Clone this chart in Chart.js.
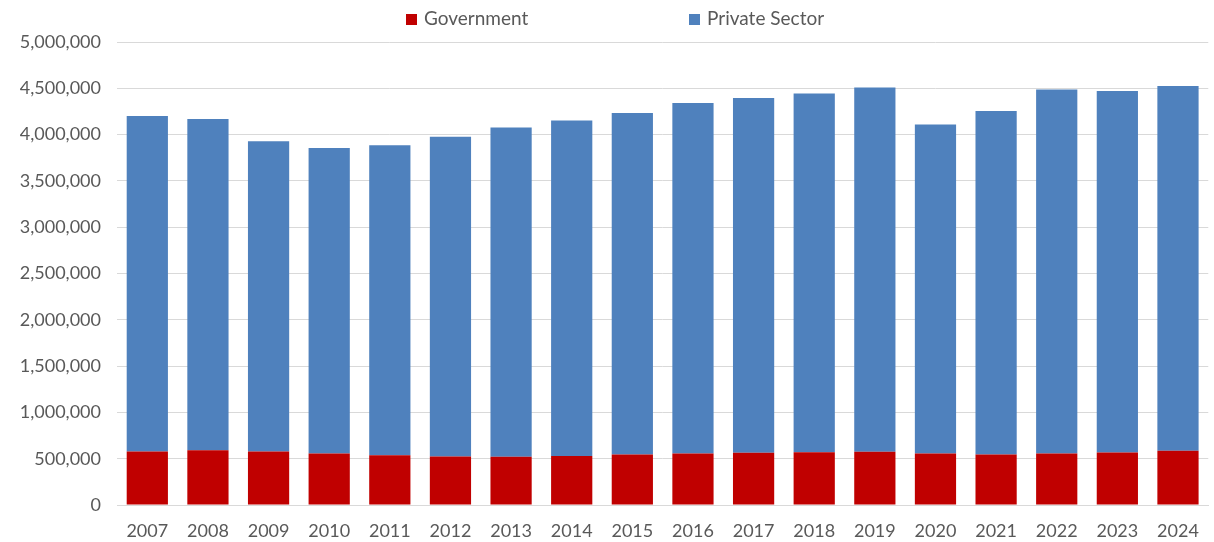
<!DOCTYPE html>
<html>
<head>
<meta charset="utf-8">
<script src="https://cdn.jsdelivr.net/npm/chart.js@4/dist/chart.umd.min.js"></script>
<style>
  html, body { margin: 0; padding: 0; background: #fff; }
  #wrap { position: relative; width: 1214px; height: 542px; }
  .legend { position: absolute; top: 6px; font-family: Lato, sans-serif; font-size: 19px; color: #595959; }
  .legend span.box { display: inline-block; width: 11px; height: 11px; margin-right: 7px; vertical-align: 0px; }
</style>
</head>
<body>
<div id="wrap">
  <canvas id="chart" width="1214" height="542"></canvas>
  <div class="legend" style="left:406px"><span class="box" style="background:#C00000"></span>Government</div>
  <div class="legend" style="left:689px"><span class="box" style="background:#4F81BD"></span>Private Sector</div>
</div>
<script>
// Datos del gráfico
const years = ['2007', '2008', '2009', '2010', '2011', '2012', '2013', '2014', '2015',
               '2016', '2017', '2018', '2019', '2020', '2021', '2022', '2023', '2024'];
const government = [579000, 590000, 579000, 557000, 536000, 525000, 522000, 528000, 546000,
                    557000, 565000, 570000, 576000, 555000, 546000, 557000, 568000, 587000];
const privateSector = [3623000, 3579000, 3349000, 3299000, 3349000, 3453000, 3554000, 3623000, 3688000,
                       3785000, 3831000, 3873000, 3932000, 3553000, 3710000, 3929000, 3904000, 3939000];
const yTicks = [0, 500000, 1000000, 1500000, 2000000, 2500000, 3000000, 3500000, 4000000, 4500000, 5000000];

const ctx = document.getElementById('chart').getContext('2d');
const chart = new Chart(ctx, {
    type: 'bar',
    data: {
        labels: years,
        datasets: [{
            label: 'Government',
            data: government,
            backgroundColor: '#C00000',
            barPercentage: 0.68,
            categoryPercentage: 1
        }, {
            label: 'Private Sector',
            data: privateSector,
            backgroundColor: '#4F81BD',
            barPercentage: 0.68,
            categoryPercentage: 1
        }]
    },
    options: {
        responsive: false,
        animation: false,
        layout: { padding: { top: 42, right: 5, left: 0, bottom: 0 } },
        plugins: {
            legend: { display: false },
            tooltip: { enabled: false }
        },
        scales: {
            x: {
                stacked: true,
                grid: { display: false, drawTicks: false },
                border: { color: '#d9d9d9' },
                ticks: {
                    color: '#595959',
                    font: { family: 'Lato', size: 18 },
                    padding: 15,
                    maxRotation: 0
                },
                afterFit: function(scale) { scale.height = 37; }
            },
            y: {
                stacked: true,
                min: 0,
                max: 5000000,
                grid: { color: '#d9d9d9', drawTicks: false },
                border: { display: false },
                afterBuildTicks: function(scale) {
                    scale.ticks = yTicks.map(v => ({ value: v }));
                },
                ticks: {
                    color: '#595959',
                    font: { family: 'Lato', size: 18 },
                    padding: 16,
                    callback: v => v.toLocaleString('en-US')
                },
                afterFit: function(scale) { scale.width = 117; }
            }
        }
    }
});
</script>
</body>
</html>
